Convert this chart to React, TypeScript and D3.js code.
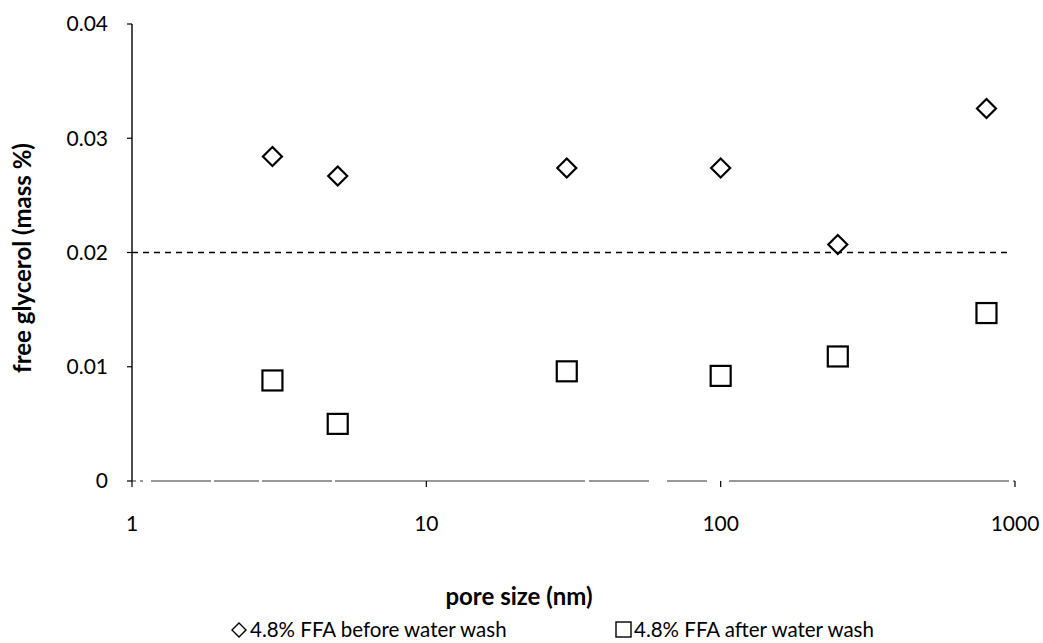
import React from "react";
import * as d3 from "d3";

const poreSizes = [3, 5, 30, 100, 250, 800];
const beforeWash = [0.0284, 0.0267, 0.0274, 0.0274, 0.0207, 0.0326];
const afterWash = [0.0088, 0.0050, 0.0096, 0.0092, 0.0109, 0.0147];
const xTicks = [1, 10, 100, 1000];
const yTicks = [0, 0.01, 0.02, 0.03, 0.04];
const limitValue = 0.02;

const W = 1043;
const H = 643;
const FONT = "Lato, 'Open Sans', sans-serif";

export default function App() {
  const x = d3.scaleLog().domain([1, 1000]).range([132, 1015]);
  const y = d3.scaleLinear().domain([0, 0.04]).range([481, 24]);
  const diamond = (cx: number, cy: number, r: number) =>
    `M${cx},${cy - r}L${cx + r},${cy}L${cx},${cy + r}L${cx - r},${cy}Z`;

  return (
    <svg width={W} height={H} style={{ position: "absolute", left: 0, top: 0, background: "#fff" }}>
      <rect width={W} height={H} fill="#fff" />
      {/* y axis */}
      <line x1={x(1)} x2={x(1)} y1={y(0.04)} y2={y(0)} stroke="#000" strokeWidth={1.4} />
      {yTicks.map((t) => (
        <g key={t}>
          <line x1={x(1) - 5} x2={x(1)} y1={y(t)} y2={y(t)} stroke="#000" strokeWidth={1.2} />
          <text x={x(1) - 24} y={y(t)} dy="0.35em" textAnchor="end" fontFamily={FONT} fontSize={21} fill="#000">
            {t === 0 ? "0" : t.toFixed(2)}
          </text>
        </g>
      ))}
      {/* x axis (slightly broken scanned line) */}
      <line x1={x(1)} x2={x(1000)} y1={y(0)} y2={y(0)} stroke="#333" strokeWidth={1.2} strokeDasharray="4 4 3 8 60 3 45 3 70 3 250 4 60 18 40 22 280" />
      {xTicks.map((t) => (
        <g key={t}>
          <line x1={x(t)} x2={x(t)} y1={y(0)} y2={y(0) + 6} stroke="#000" strokeWidth={1.2} />
          <text x={x(t)} y={y(0) + 50} textAnchor="middle" fontFamily={FONT} fontSize={21} fill="#000">
            {t}
          </text>
        </g>
      ))}
      {/* limit line */}
      <line x1={x(1)} x2={1007} y1={y(limitValue)} y2={y(limitValue)} stroke="#000" strokeWidth={1.6} strokeDasharray="6 5" />
      {/* series */}
      {poreSizes.map((p, i) => (
        <path key={"d" + i} d={diamond(x(p), y(beforeWash[i]), 9.5)} fill="none" stroke="#000" strokeWidth={2.2} />
      ))}
      {poreSizes.map((p, i) => (
        <rect key={"s" + i} x={x(p) - 10} y={y(afterWash[i]) - 10} width={20} height={20} fill="none" stroke="#000" strokeWidth={2.2} />
      ))}
      {/* axis titles */}
      <text x={519} y={605} textAnchor="middle" fontFamily={FONT} fontSize={24} fontWeight="bold" fill="#000">
        pore size (nm)
      </text>
      <text transform={`translate(31,${258}) rotate(-90)`} textAnchor="middle" fontFamily={FONT} fontSize={24} fontWeight="bold" fill="#000">
        free glycerol (mass %)
      </text>
      {/* legend */}
      <path d={diamond(239, 630, 7)} fill="none" stroke="#000" strokeWidth={1.4} />
      <text x={250} y={637} fontFamily={FONT} fontSize={20.5} fill="#000">4.8% FFA before water wash</text>
      <rect x={616} y={622} width={15} height={15} fill="none" stroke="#000" strokeWidth={1.4} />
      <text x={634} y={637} fontFamily={FONT} fontSize={20.5} fill="#000">4.8% FFA after water wash</text>
    </svg>
  );
}
